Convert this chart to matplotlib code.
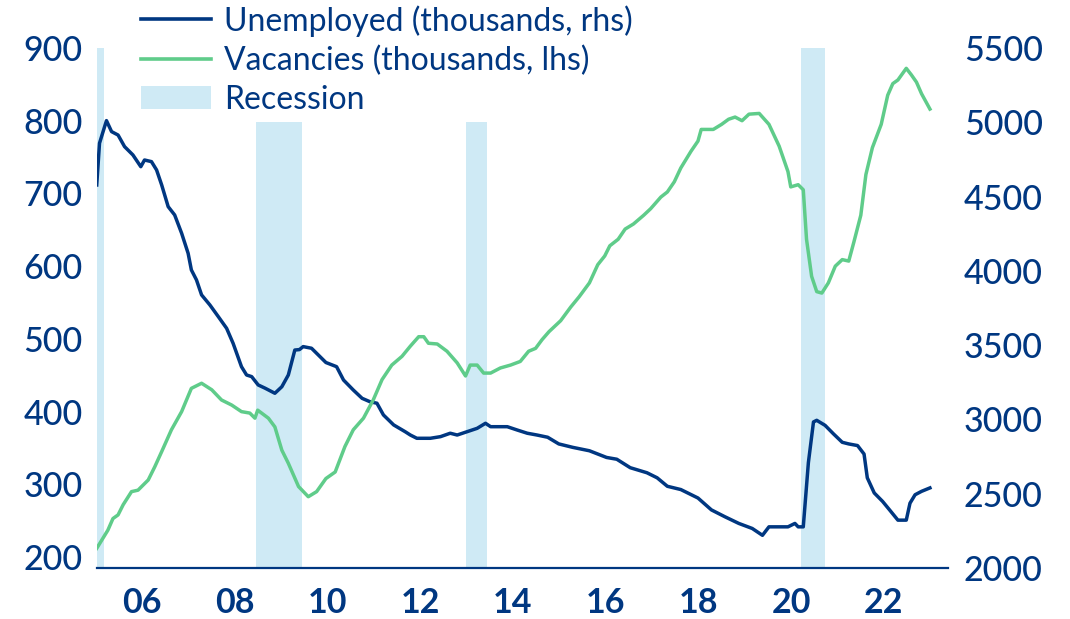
import matplotlib
matplotlib.use("Agg")
import matplotlib.pyplot as plt
from matplotlib.lines import Line2D
from matplotlib.patches import Patch

plt.rcParams['font.family'] = ['Lato', 'DejaVu Sans']

# ---- data ----
unemp_year = [2005.03, 2005.09, 2005.24, 2005.35, 2005.49, 2005.63, 2005.81, 2005.98, 2006.06, 2006.21,
              2006.32, 2006.43, 2006.57, 2006.71, 2006.86, 2007.00, 2007.07, 2007.18, 2007.29, 2007.47,
              2007.65, 2007.83, 2007.97, 2008.15, 2008.26, 2008.37, 2008.51, 2008.66, 2008.87, 2009.02,
              2009.16, 2009.30, 2009.40, 2009.48, 2009.66, 2009.77, 2009.97, 2010.20, 2010.35, 2010.56,
              2010.75, 2010.92, 2011.07, 2011.21, 2011.43, 2011.68, 2011.79, 2011.93, 2012.22, 2012.44,
              2012.65, 2012.80, 2013.01, 2013.23, 2013.41, 2013.52, 2013.88, 2014.09, 2014.31, 2014.52,
              2014.75, 2014.99, 2015.29, 2015.65, 2016.02, 2016.24, 2016.53, 2016.89, 2017.11, 2017.33,
              2017.62, 2017.99, 2018.28, 2018.57, 2018.87, 2019.16, 2019.38, 2019.52, 2019.74, 2019.93,
              2020.08, 2020.15, 2020.26, 2020.37, 2020.48, 2020.55, 2020.73, 2020.91, 2021.10, 2021.24,
              2021.43, 2021.57, 2021.64, 2021.79, 2021.97, 2022.12, 2022.30, 2022.48, 2022.56, 2022.67,
              2022.81, 2022.99]
unemployed = [4578, 4859, 5011, 4937, 4914, 4836, 4780, 4701, 4746, 4735,
              4679, 4578, 4432, 4376, 4253, 4118, 4006, 3939, 3838, 3770,
              3692, 3613, 3512, 3355, 3299, 3288, 3232, 3210, 3176, 3220,
              3299, 3467, 3470, 3490, 3479, 3445, 3383, 3355, 3265, 3198,
              3142, 3119, 3109, 3030, 2963, 2917, 2895, 2873, 2873, 2884,
              2907, 2895, 2917, 2940, 2974, 2951, 2951, 2929, 2907, 2895,
              2880, 2835, 2812, 2789, 2744, 2732, 2675, 2641, 2607, 2550,
              2528, 2471, 2391, 2345, 2300, 2266, 2220, 2277, 2277, 2277,
              2300, 2277, 2277, 2709, 2983, 2994, 2960, 2903, 2846, 2835,
              2824, 2767, 2607, 2505, 2448, 2391, 2322, 2322, 2436, 2493,
              2516, 2539]

vac_year = [2005.03, 2005.27, 2005.38, 2005.49, 2005.60, 2005.78, 2005.92, 2006.14, 2006.28, 2006.43,
            2006.64, 2006.86, 2007.07, 2007.29, 2007.51, 2007.72, 2007.94, 2008.15, 2008.33, 2008.44,
            2008.50, 2008.73, 2008.87, 2009.02, 2009.16, 2009.38, 2009.59, 2009.77, 2009.97, 2010.17,
            2010.38, 2010.56, 2010.78, 2010.99, 2011.18, 2011.39, 2011.61, 2011.79, 2011.97, 2012.08,
            2012.18, 2012.37, 2012.58, 2012.80, 2012.90, 2012.98, 2013.08, 2013.23, 2013.37, 2013.52,
            2013.73, 2013.95, 2014.16, 2014.34, 2014.49, 2014.63, 2014.78, 2015.03, 2015.25, 2015.43,
            2015.65, 2015.83, 2015.98, 2016.09, 2016.27, 2016.42, 2016.60, 2016.82, 2016.97, 2017.19,
            2017.33, 2017.48, 2017.62, 2017.84, 2017.99, 2018.06, 2018.32, 2018.50, 2018.65, 2018.79,
            2018.94, 2019.09, 2019.31, 2019.52, 2019.74, 2019.93, 2019.99, 2020.15, 2020.26, 2020.33,
            2020.44, 2020.55, 2020.66, 2020.80, 2020.95, 2021.10, 2021.24, 2021.35, 2021.50, 2021.61,
            2021.75, 2021.94, 2022.08, 2022.19, 2022.30, 2022.48, 2022.59, 2022.70, 2022.81, 2022.99]
vacancies = [212, 237, 253, 258, 272, 290, 292, 306, 324, 345,
             375, 400, 432, 439, 430, 416, 409, 400, 398, 391,
             402, 391, 379, 347, 329, 297, 283, 290, 308, 317,
             352, 375, 391, 416, 444, 464, 476, 490, 503, 503,
             494, 493, 483, 467, 457, 449, 464, 464, 453, 453,
             460, 464, 469, 483, 487, 499, 510, 525, 544, 558,
             577, 602, 614, 628, 637, 651, 658, 670, 679, 695,
             702, 716, 735, 758, 772, 788, 788, 795, 802, 805,
             800, 809, 810, 795, 765, 730, 709, 712, 705, 637,
             586, 565, 563, 577, 600, 609, 607, 633, 670, 726,
             763, 795, 835, 851, 856, 872, 863, 853, 837, 816]

rec_start = [2004.90, 2008.47, 2012.98, 2020.21]
rec_end = [2005.19, 2009.45, 2013.45, 2020.73]
rec_top = [5500, 5000, 5000, 5500]   # drawn on the rhs scale

x_ticks = [2006, 2008, 2010, 2012, 2014, 2016, 2018, 2020, 2022]
x_labels = ['06', '08', '10', '12', '14', '16', '18', '20', '22']
left_ticks = [200, 300, 400, 500, 600, 700, 800, 900]
right_ticks = [2000, 2500, 3000, 3500, 4000, 4500, 5000, 5500]

# ---- style ----
NAVY = '#003781'
GREEN = '#5fcc8a'
RECESS = '#cfeaf5'

fig = plt.figure(figsize=(10.7, 6.19), dpi=100)
ax_r = fig.add_axes([0.0904, 0.0824, 0.7956, 0.8401])
ax_l = ax_r.twinx()

# rhs axis: recession bars + unemployed
for s, e, t in zip(rec_start, rec_end, rec_top):
    ax_r.bar(s, t - 2000, width=e - s, bottom=2000, align='edge', color=RECESS,
             edgecolor='none', zorder=0)
ax_r.plot(unemp_year, unemployed, color=NAVY, lw=2.5, zorder=3, solid_joinstyle='round')
ax_r.set_ylim(2000, 5500)
ax_r.set_xlim(2005.03, 2023.38)

# lhs axis: vacancies
ax_l.plot(vac_year, vacancies, color=GREEN, lw=2.5, zorder=3, solid_joinstyle='round')
ax_l.set_ylim(185, 900)

ax_r.yaxis.tick_right()
ax_l.yaxis.tick_left()

ax_r.set_yticks(right_ticks)
ax_r.set_yticklabels([str(v) for v in right_ticks])
ax_l.set_yticks(left_ticks)
ax_l.set_yticklabels([str(v) for v in left_ticks])
ax_r.set_xticks(x_ticks)
ax_r.set_xticklabels(x_labels)

for lab in ax_r.get_yticklabels() + ax_l.get_yticklabels():
    lab.set_fontsize(24.5)
    lab.set_color(NAVY)
    lab.set_fontweight('medium')
for lab in ax_r.get_xticklabels():
    lab.set_fontsize(24.5)
    lab.set_color(NAVY)
    lab.set_fontweight('bold')

ax_r.tick_params(axis='y', length=0, pad=11.5, right=True, left=False,
                 labelright=True, labelleft=False)
ax_l.tick_params(axis='y', length=0, pad=10, left=True, right=False,
                 labelleft=True, labelright=False)
ax_r.tick_params(axis='x', length=0, pad=14)

for a in (ax_r, ax_l):
    for sp in ('top', 'left', 'right'):
        a.spines[sp].set_visible(False)
ax_l.spines['bottom'].set_visible(False)
ax_r.spines['bottom'].set_color(NAVY)
ax_r.spines['bottom'].set_linewidth(1.6)

handles = [Line2D([0], [0], color=NAVY, lw=2.6),
           Line2D([0], [0], color=GREEN, lw=2.6),
           Patch(facecolor=RECESS, edgecolor='none')]
labels = ['Unemployed (thousands, rhs)', 'Vacancies (thousands, lhs)', 'Recession']
leg = fig.legend(handles, labels, loc='upper left', bbox_to_anchor=(141 / 1070, 1 - 5 / 619),
                 frameon=False, fontsize=23, handlelength=2.2, handleheight=0.72,
                 handletextpad=0.4, labelspacing=0.28, borderpad=0, borderaxespad=0)
for t in leg.get_texts():
    t.set_color(NAVY)

fig.savefig('out.png', dpi=100)
